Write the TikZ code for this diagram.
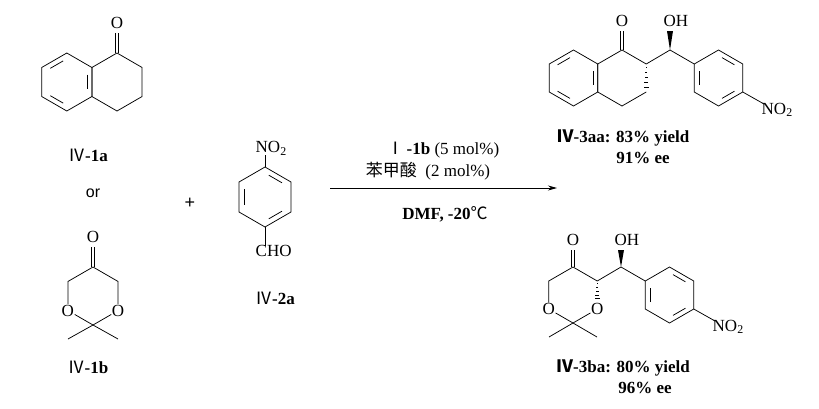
\documentclass[tikz,border=0pt]{standalone}
\usepackage{fontspec}
\setmainfont{Liberation Serif}
\newfontfamily\cjk{Noto Sans CJK SC}
\newfontfamily\lsans{Liberation Sans}
\usetikzlibrary{calc,arrows.meta}
\newcommand\hexv[4]{\foreach \i/\a in {1/-90,2/-30,3/30,4/90,5/150,6/-150}{\coordinate (#1\i) at ($(#2,#3)+(\a:#4)$);}}
\newcommand\hexd[1]{\draw[bond] (#11)--(#12)--(#13)--(#14)--(#15)--(#16)--cycle;}
\newcommand\inner[3]{\draw[bond] ($($(#1)!0.18!(#2)$)!0.2!(#3)$) -- ($($(#1)!0.82!(#2)$)!0.2!(#3)$);}
\newcommand\dbo[2]{\draw[bond] ($(#1)!1.6pt!90:(#2)$) -- ($(#2)!1.6pt!-90:(#1)$); \draw[bond] ($(#1)!1.6pt!-90:(#2)$) -- ($(#2)!1.6pt!90:(#1)$);}
\newcommand\rn[1]{{\cjk\fontsize{17}{17}\selectfont #1}}
\newcommand\hashb[2]{\foreach \t in {0.1,0.28,0.46,0.64,0.82,1.0}{\draw[line width=0.6pt] ($($(#1)!\t!(#2)$)!{\t*3pt}!90:(#2)$) -- ($($(#1)!\t!(#2)$)!{\t*3pt}!-90:(#2)$);}}
\newcommand\wedgeb[2]{\fill ($(#2)!3pt!90:(#1)$) -- ($(#2)!3pt!-90:(#1)$) -- (#1) -- cycle;}
\begin{document}
\begin{tikzpicture}[x=1pt,y=-1pt,
  bond/.style={line width=0.75pt},
  atom/.style={inner sep=0.5pt,font=\fontsize{17}{17}\selectfont},
  lab/.style={font=\fontsize{17}{18}\selectfont\bfseries},
  every node/.style={font=\fontsize{17}{17}\selectfont}]
\useasboundingbox (0,0) rectangle (819,408);
% ---- tetralone IV-1a
\hexv{A}{117}{82}{29}\hexv{B}{66.8}{82}{29}
\coordinate (Bc) at (66.8,82);\coordinate (Ac) at (117,82);
\hexd{A}\hexd{B}
\inner{B1}{B6}{Bc}\inner{B4}{B5}{Bc}\inner{B2}{B3}{Bc}
\node[atom] (oa) at (117,23) {O};
\coordinate (oab) at (117,33);
\dbo{A1}{oab}
\node (l1a) at (88,155) {\rn{Ⅳ}\textbf{-1a}};
\node[font=\lsans\fontsize{16}{16}\selectfont] (or) at (93,193) {or};
% ---- dioxanone IV-1b
\hexv{D}{93}{296}{29}
\node[atom] (d3) at (D3) {O};\node[atom] (d5) at (D5) {O};
\draw[bond] (d5) -- (D6) -- (D1) -- (D2) -- (d3) -- (D4) -- (d5);
\coordinate (od) at (93,247);
\node[atom] (odn) at (93,237) {O};
\dbo{D1}{od}
\coordinate (m1) at (68,339);\coordinate (m2) at (118,339);
\draw[bond] (m1) -- (D4) -- (m2);
\node (l1b) at (88,367) {\rn{Ⅳ}\textbf{-1b}};
% ---- plus
\node[font=\lsans\fontsize{18}{18}\selectfont] (plus) at (190,203) {+};
% ---- p-nitrobenzaldehyde
\hexv{N}{265}{197}{30}\coordinate (Nc) at (265,197);
\hexd{N}\inner{N1}{N2}{Nc}\inner{N3}{N4}{Nc}\inner{N5}{N6}{Nc}
\node[atom,anchor=south west] (no2a) at (255,156) {NO\textsubscript{2}};
\coordinate (nt) at (265,155);\draw[bond] (N1) -- (nt);
\node[atom,anchor=north west] (cho) at (255,245) {CHO};
\coordinate (nb) at (265,246);\draw[bond] (N4) -- (nb);
\node (l2a) at (275,298) {\rn{Ⅳ}\textbf{-2a}};
% ---- arrow
\coordinate (a0) at (330,188);\coordinate (a1) at (557,188);
\draw[line width=0.8pt,-{Stealth[length=9pt,width=5pt]}] (a0) -- (a1);
\node (c1) at (443,150) {\rn{Ⅰ}\,\textbf{-1b} (5 mol\%)};
\node (c2) at (428,171) {{\cjk 苯甲酸}\ \ (2 mol\%)};
\node (c3) at (445,214) {\textbf{DMF, -20}{\cjk ℃}};
% ---- product IV-3aa
\hexv{P}{622}{78}{28}\hexv{Q}{573.5}{78}{28}
\coordinate (Qc) at (573.5,78);
\draw[bond] (P4)--(P5)--(P6)--(P1)--(P2);
\draw[bond] (P3)--(P4);
\hexd{Q}\inner{Q1}{Q6}{Qc}\inner{Q4}{Q5}{Qc}\inner{Q2}{Q3}{Qc}
\hashb{P2}{P3}
\node[atom] (op) at (622,21) {O};
\coordinate (opb) at (622,31);\dbo{P1}{opb}
\coordinate (cp) at (670,50);\draw[bond] (P2) -- (cp);
\node[atom,anchor=west] (ohp) at (663,21) {OH};
\coordinate (ohpb) at (670,31);\wedgeb{cp}{ohpb}
\hexv{R}{718.5}{78}{28}\coordinate (Rc) at (718.5,78);
\hexd{R}\draw[bond] (cp) -- (R6);
\inner{R1}{R2}{Rc}\inner{R3}{R4}{Rc}\inner{R5}{R6}{Rc}
\coordinate (np) at (764,104);\draw[bond] (R3) -- (np);
\node[atom,anchor=west] (no2p) at (761,110) {NO\textsubscript{2}};
\node[lab] (l3aa) at (623,138) {\rn{Ⅳ}\textbf{-3aa: 83\% yield}};
\node[lab] (l3aa2) at (643,158) {91\% ee};
% ---- product IV-3ba
\hexv{S}{573}{295}{28}
\node[atom] (s3) at (S3) {O};\node[atom] (s5) at (S5) {O};
\draw[bond] (s5) -- (S6) -- (S1) -- (S2);
\hashb{S2}{s3.north}
\draw[bond] (s3) -- (S4) -- (s5);
\node[atom] (os) at (573,240) {O};
\coordinate (osb) at (573,250);\dbo{S1}{osb}
\coordinate (sm1) at (549,337);\coordinate (sm2) at (597,337);
\draw[bond] (sm1) -- (S4) -- (sm2);
\coordinate (cs) at (621,267);\draw[bond] (S2) -- (cs);
\node[atom,anchor=west] (ohs) at (614,240) {OH};
\coordinate (ohsb) at (621,250);\wedgeb{cs}{ohsb}
\hexv{T}{669.5}{295}{28}\coordinate (Tc) at (669.5,295);
\hexd{T}\draw[bond] (cs) -- (T6);
\inner{T1}{T2}{Tc}\inner{T3}{T4}{Tc}\inner{T5}{T6}{Tc}
\coordinate (ns) at (715,321);\draw[bond] (T3) -- (ns);
\node[atom,anchor=west] (no2s) at (712,327) {NO\textsubscript{2}};
\node[lab] (l3ba) at (623,368) {\rn{Ⅳ}\textbf{-3ba: 80\% yield}};
\node[lab] (l3ba2) at (645,388) {96\% ee};
\end{tikzpicture}
\end{document}
